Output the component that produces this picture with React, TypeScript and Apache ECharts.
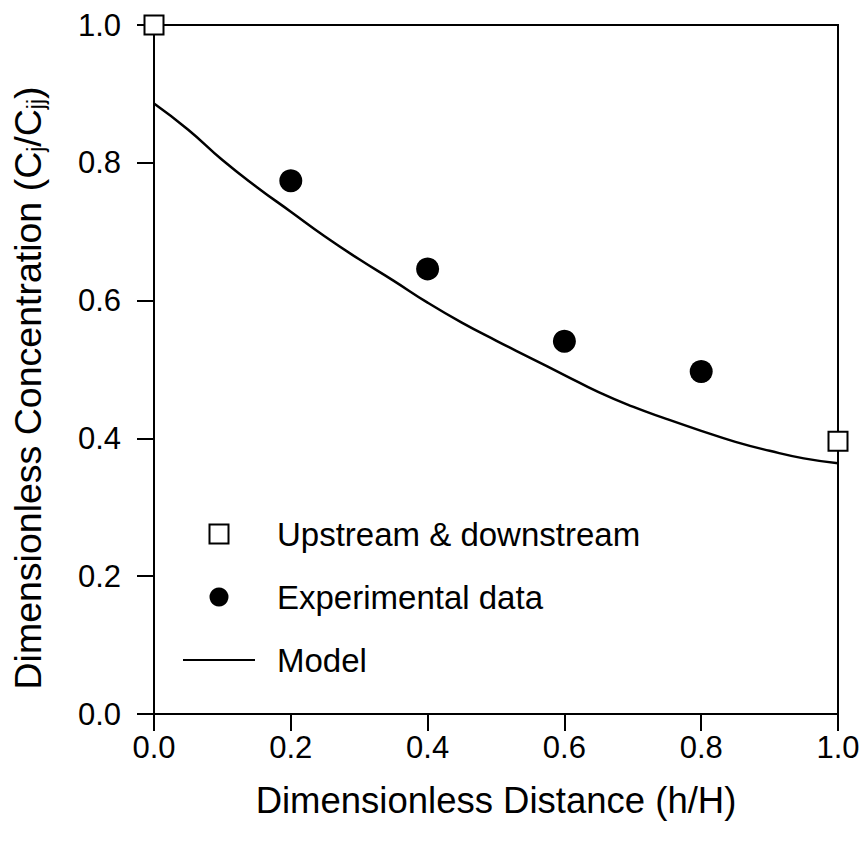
import React, { useEffect, useRef } from "react";
import * as echarts from "echarts";

const xTicks = [0, 0.2, 0.4, 0.6, 0.8, 1.0];
const boundaryX = [0, 1.0];
const boundaryY = [1.0, 0.396];
const expX = [0.2, 0.4, 0.6, 0.8];
const expY = [0.774, 0.646, 0.541, 0.497];
const modelX = [0, 0.05, 0.1, 0.15, 0.2, 0.25, 0.3, 0.35, 0.4, 0.45, 0.5, 0.55, 0.6, 0.65, 0.7, 0.75, 0.8, 0.85, 0.9, 0.95, 1.0];
const modelY = [0.886, 0.848, 0.804, 0.765, 0.729, 0.693, 0.66, 0.629, 0.597, 0.568, 0.542, 0.517, 0.492, 0.467, 0.446, 0.428, 0.411, 0.395, 0.382, 0.371, 0.364];

const seriesNames = ["Upstream & downstream", "Experimental data", "Model"];
const FONT = "Liberation Sans";

export default function App() {
  const ref = useRef<HTMLDivElement>(null);
  useEffect(() => {
    if (!ref.current) return;
    const chart = echarts.init(ref.current, undefined, { renderer: "svg" });
    chart.setOption({
      animation: false,
      backgroundColor: "#fff",
      textStyle: { fontFamily: FONT, color: "#000" },
      grid: {
        left: 154,
        right: 27,
        top: 25,
        bottom: 135,
        show: true,
        borderColor: "#000",
        borderWidth: 2,
        backgroundColor: "transparent",
      },
      legend: {
        orient: "vertical",
        left: 183,
        top: 516,
        padding: 0,
        itemWidth: 72,
        itemHeight: 19,
        itemGap: 27,
        symbolKeepAspect: true,
        textStyle: { fontFamily: FONT, fontSize: 33, color: "#000", lineHeight: 36, padding: [0, 0, 0, 17] },
        data: [
          { name: seriesNames[0], icon: "path://M0,0H16V16H0Z" },
          { name: seriesNames[1], icon: "circle" },
          { name: seriesNames[2], icon: "path://M0,0H72V2H0Z" },
        ],
      },
      xAxis: {
        type: "value",
        min: 0,
        max: 1,
        interval: 0.2,
        name: "Dimensionless Distance (h/H)",
        nameLocation: "middle",
        nameGap: 68,
        nameTextStyle: { fontFamily: FONT, fontSize: 36.5, color: "#000" },
        axisLine: { show: true, lineStyle: { color: "#000", width: 2 } },
        axisTick: { show: true, length: 17, lineStyle: { color: "#000", width: 2 } },
        axisLabel: {
          margin: 18,
          fontFamily: FONT,
          fontSize: 31,
          color: "#000",
          formatter: (v: number) => v.toFixed(1),
        },
        splitLine: { show: false },
      },
      yAxis: {
        type: "value",
        min: 0,
        max: 1,
        interval: 0.2,
        axisLine: { show: true, lineStyle: { color: "#000", width: 2 } },
        axisTick: { show: true, length: 17, lineStyle: { color: "#000", width: 2 } },
        axisLabel: {
          margin: 33,
          fontFamily: FONT,
          fontSize: 31,
          color: "#000",
          formatter: (v: number) => v.toFixed(1),
        },
        splitLine: { show: false },
      },
      graphic: [
        {
          type: "text",
          x: 28,
          y: 388,
          rotation: Math.PI / 2,
          style: {
            text: "Dimensionless Concentration (C{sub|j}/C{sub|jj})",
            fontFamily: FONT,
            fontSize: 37.5,
            fill: "#000",
            align: "center",
            verticalAlign: "middle",
            rich: {
              sub: { fontFamily: FONT, fontSize: 23, fill: "#000", padding: [16, 0, 0, 0] },
            },
          },
        },
      ],
      series: [
        {
          name: seriesNames[2],
          type: "line",
          data: modelX.map((x, i) => [x, modelY[i]]),
          smooth: true,
          symbol: "none",
          lineStyle: { color: "#000", width: 2.5 },
          itemStyle: { color: "#000" },
          z: 3,
        },
        {
          name: seriesNames[1],
          type: "scatter",
          data: expX.map((x, i) => [x, expY[i]]),
          symbol: "circle",
          symbolSize: 23,
          itemStyle: { color: "#000", opacity: 1 },
          z: 4,
        },
        {
          name: seriesNames[0],
          type: "scatter",
          data: boundaryX.map((x, i) => [x, boundaryY[i]]),
          symbol: "rect",
          symbolSize: 19,
          itemStyle: { color: "#fff", borderColor: "#000", borderWidth: 2, opacity: 1 },
          clip: false,
          z: 5,
        },
      ],
    });
    return () => chart.dispose();
  }, []);
  return <div ref={ref} style={{ position: "fixed", left: 0, top: 0, width: 865, height: 849 }} />;
}
